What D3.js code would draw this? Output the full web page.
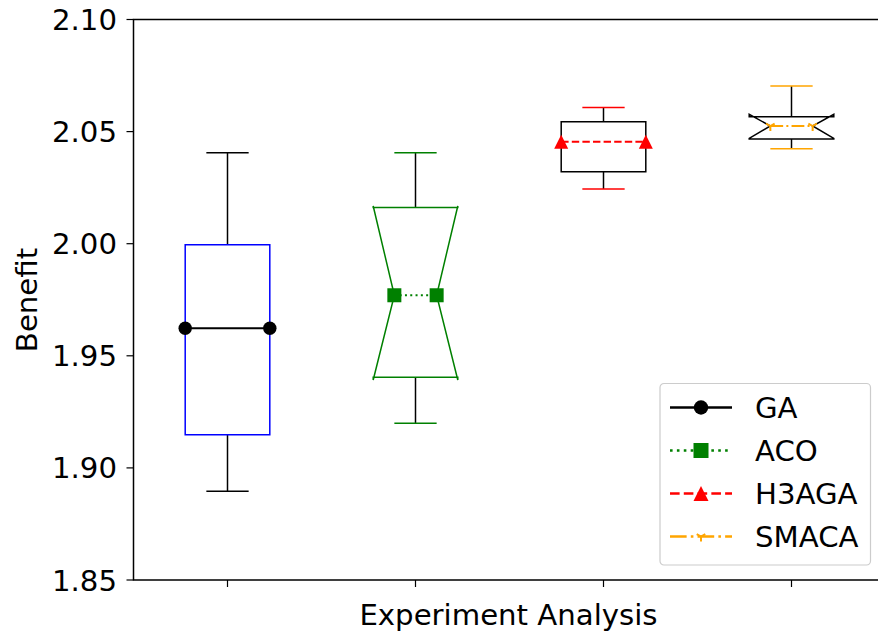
<!DOCTYPE html>
<html>
<head>
<meta charset="utf-8">
<script src="https://cdn.jsdelivr.net/npm/d3@7"></script>
<style>
  body { margin: 0; background: #fff; }
  svg text { font-family: "DejaVu Sans", sans-serif; fill: #000; }
</style>
</head>
<body>
<svg class="box" width="878" height="633"></svg>
<script>
const categories = ["GA", "ACO", "H3AGA", "SMACA"];
const positions = [1, 2, 3, 4];
const whiskLo = [1.8896, 1.9199, 2.0244, 2.0424];
const q1 = [1.9148, 1.9404, 2.0321, 2.0467];
const median = [1.9623, 1.9770, 2.0455, 2.0525];
const q3 = [1.9995, 2.0161, 2.0544, 2.0566];
const whiskHi = [2.0406, 2.0406, 2.0607, 2.0703];
const notched = [false, true, false, true];
const notchLo = [null, 1.9392, null, 2.0470];
const notchHi = [null, 2.0168, null, 2.0577];
const yTicks = [1.85, 1.90, 1.95, 2.00, 2.05, 2.10];

const boxColor = ["#0000ff", "#008000", "#000000", "#000000"];
const capColor = ["#000000", "#008000", "#ff0000", "#ffa500"];
const medColor = ["#000000", "#008000", "#ff0000", "#ffa500"];
const medDash = [null, "2,3.3", "7.4,3.2", "12.8,3.2,2,3.2"];
const markers = ["circle", "square", "triangle", "tri_down"];

const svg = d3.select("svg.box");
const margin = { left: 133.5, top: 19.5, right: 885.5, bottom: 580 };
const fs = 29.2;

const x = d3.scaleLinear().domain([0.5, 4.5]).range([margin.left, margin.right]);
const y = d3.scaleLinear().domain([1.85, 2.10]).range([margin.bottom, margin.top]);

const boxW = 0.45;

const rows = categories.map((c, i) => ({
    name: c, pos: positions[i], lo: whiskLo[i], q1: q1[i], med: median[i], q3: q3[i], hi: whiskHi[i],
    notch: notched[i], nlo: notchLo[i], nhi: notchHi[i],
    box: boxColor[i], cap: capColor[i], mc: medColor[i], dash: medDash[i], marker: markers[i]
}));

function drawMarker(g, type, cx, cy, color, s) {
    if (type === "circle") {
        g.append("circle").attr("cx", cx).attr("cy", cy).attr("r", s * 0.48).attr("fill", color);
    } else if (type === "square") {
        g.append("rect").attr("x", cx - s / 2).attr("y", cy - s / 2).attr("width", s).attr("height", s).attr("fill", color);
    } else if (type === "triangle") {
        const h = s * 0.5;
        g.append("path").attr("d", `M${cx},${cy - h}L${cx + h},${cy + h}L${cx - h},${cy + h}Z`).attr("fill", color);
    } else {
        const h = s * 0.38;
        g.append("path")
            .attr("d", `M${cx},${cy}V${cy + h}M${cx},${cy}L${cx - h * 0.87},${cy - h * 0.5}M${cx},${cy}L${cx + h * 0.87},${cy - h * 0.5}`)
            .attr("stroke", color).attr("stroke-width", 2).attr("fill", "none");
    }
}

// boxes
const bx = svg.selectAll(".bx").data(rows).enter().append("g").attr("class", "bx");

bx.each(function (d) {
    const g = d3.select(this);
    const cx = x(d.pos);
    const l = x(d.pos - boxW / 2), r = x(d.pos + boxW / 2);
    const cl = x(d.pos - boxW / 4), cr = x(d.pos + boxW / 4);

    // whiskers
    g.append("line").attr("x1", cx).attr("x2", cx).attr("y1", y(d.q3)).attr("y2", y(d.hi))
        .attr("stroke", "#000").attr("stroke-width", 1.5);
    g.append("line").attr("x1", cx).attr("x2", cx).attr("y1", y(d.q1)).attr("y2", y(d.lo))
        .attr("stroke", "#000").attr("stroke-width", 1.5);
    // caps
    [d.hi, d.lo].forEach(v => {
        g.append("line").attr("x1", cl).attr("x2", cr).attr("y1", y(v)).attr("y2", y(v))
            .attr("stroke", d.cap).attr("stroke-width", 1.5);
    });

    // box
    let path;
    if (d.notch) {
        path = `M${l},${y(d.q1)}L${l},${y(d.nlo)}L${cl},${y(d.med)}L${l},${y(d.nhi)}L${l},${y(d.q3)}` +
            `L${r},${y(d.q3)}L${r},${y(d.nhi)}L${cr},${y(d.med)}L${r},${y(d.nlo)}L${r},${y(d.q1)}Z`;
    } else {
        path = `M${l},${y(d.q1)}L${l},${y(d.q3)}L${r},${y(d.q3)}L${r},${y(d.q1)}Z`;
    }
    g.append("path").attr("d", path).attr("fill", "none").attr("stroke", d.box)
        .attr("stroke-width", 1.5).attr("stroke-linejoin", "miter");

    // median
    const m1 = d.notch ? cl : l, m2 = d.notch ? cr : r;
    g.append("line").attr("x1", m1).attr("x2", m2).attr("y1", y(d.med)).attr("y2", y(d.med))
        .attr("stroke", d.mc).attr("stroke-width", 2).attr("stroke-dasharray", d.dash);
    drawMarker(g, d.marker, m1, y(d.med), d.mc, d.marker === "tri_down" ? 13 : 14);
    drawMarker(g, d.marker, m2, y(d.med), d.mc, d.marker === "tri_down" ? 13 : 14);
});

// spines (right spine falls outside the picture)
svg.append("path")
    .attr("d", `M${margin.right},${margin.top}H${margin.left}V${margin.bottom}H${margin.right}`)
    .attr("fill", "none").attr("stroke", "#000").attr("stroke-width", 1.5);

// y ticks
const yt = svg.selectAll(".yt").data(yTicks).enter().append("g").attr("class", "yt");
yt.append("line").attr("x1", margin.left - 7).attr("x2", margin.left)
    .attr("y1", d => y(d)).attr("y2", d => y(d)).attr("stroke", "#000").attr("stroke-width", 1.2);
yt.append("text").attr("x", 117).attr("y", d => y(d)).attr("dy", "0.36em")
    .attr("text-anchor", "end").style("font-size", fs + "px")
    .text(d => d3.format(".2f")(d));

// x ticks (no labels)
svg.selectAll(".xt").data(positions).enter().append("line").attr("class", "xt")
    .attr("x1", d => x(d)).attr("x2", d => x(d)).attr("y1", margin.bottom).attr("y2", margin.bottom + 7)
    .attr("stroke", "#000").attr("stroke-width", 1.2);

// axis labels
svg.append("text").attr("transform", "translate(37,300) rotate(-90)")
    .attr("text-anchor", "middle").style("font-size", fs + "px").text("Benefit");
svg.append("text").attr("x", 508.5).attr("y", 624.5)
    .attr("text-anchor", "middle").style("font-size", fs + "px").text("Experiment Analysis");

// legend
const lg = svg.append("g").attr("transform", "translate(660,383.5)");
lg.append("rect").attr("width", 210.5).attr("height", 181.5).attr("rx", 4)
    .attr("fill", "rgba(255,255,255,0.8)").attr("stroke", "#cccccc").attr("stroke-width", 1.2);
const item = lg.selectAll(".it").data(rows).enter().append("g").attr("class", "it")
    .attr("transform", (d, i) => `translate(0,${24 + i * 43})`);
item.append("line").attr("x1", 10).attr("x2", 72).attr("y1", 0).attr("y2", 0)
    .attr("stroke", d => d.mc).attr("stroke-width", 2.6)
    .attr("stroke-dasharray", d => d.dash ? d.dash.split(",").map(v => +v * 1.3).join(",") : null);
item.each(function (d) {
    drawMarker(d3.select(this), d.marker, 41, 0, d.mc, d.marker === "tri_down" ? 13 : 15);
});
item.append("text").attr("x", 95).attr("y", 0).attr("dy", "0.36em")
    .style("font-size", fs + "px").text(d => d.name);
</script>
</body>
</html>
